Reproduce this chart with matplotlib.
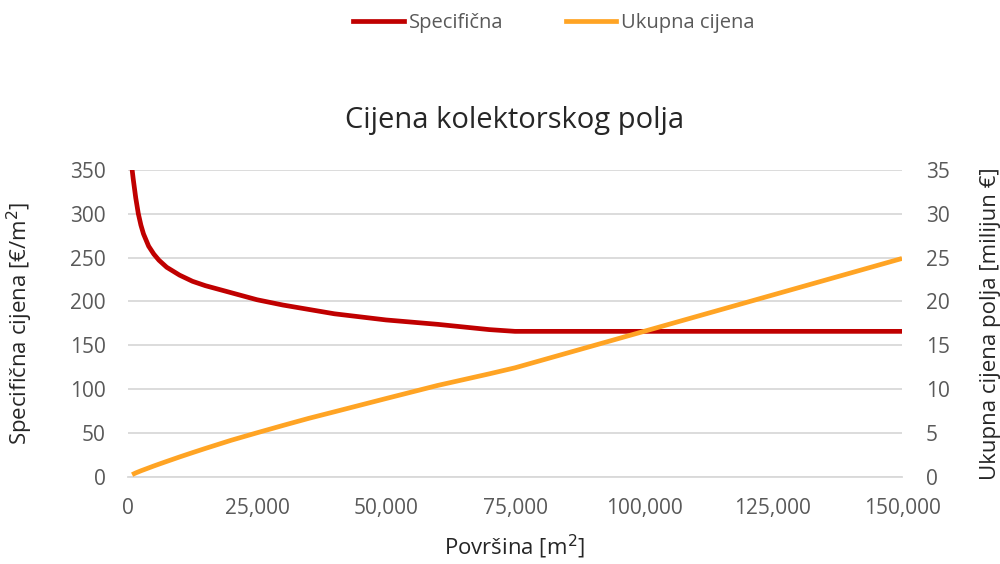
import matplotlib.pyplot as plt
from matplotlib.ticker import FuncFormatter, MultipleLocator
from matplotlib.lines import Line2D

plt.rcParams['font.family'] = ['Open Sans', 'DejaVu Sans']

# area [m2]
povrsina = [800, 1000, 1500, 2000, 2500, 3000, 4000, 5000, 6000, 7500,
            10000, 12500, 15000, 20000, 25000, 30000, 35000, 40000,
            50000, 60000, 70000, 75000, 100000, 125000, 150000]
# specific price [EUR/m2]
specificna = [350, 340, 318, 300, 287, 277, 263, 254, 247, 239,
              230, 223, 218, 210, 202, 196, 191, 186,
              179, 174, 168, 166, 166, 166, 166]
# total price [million EUR]
ukupna = [0.28, 0.34, 0.48, 0.60, 0.72, 0.83, 1.05, 1.27, 1.48, 1.79,
          2.30, 2.79, 3.27, 4.20, 5.05, 5.88, 6.69, 7.44,
          8.95, 10.44, 11.76, 12.45, 16.6, 20.75, 24.9]

RED = '#C00000'
ORANGE = '#FFA424'
GRAY = '#595959'
GRID = '#D9D9D9'

fig = plt.figure(figsize=(10, 5.64), dpi=100)
ax = fig.add_axes([0.128, 0.154, 0.774, 0.545])
ax2 = ax.twinx()

ax.plot(povrsina, specificna, color=RED, lw=3.4, solid_capstyle='butt',
        solid_joinstyle='round', zorder=3)
ax2.plot(povrsina, ukupna, color=ORANGE, lw=3.4, solid_capstyle='butt',
         solid_joinstyle='round', zorder=3)

ax.set_xlim(0, 150000)
ax.set_ylim(0, 350)
ax2.set_ylim(0, 35)
ax.xaxis.set_major_locator(MultipleLocator(25000))
ax.yaxis.set_major_locator(MultipleLocator(50))
ax2.yaxis.set_major_locator(MultipleLocator(5))
ax.xaxis.set_major_formatter(FuncFormatter(lambda v, p: f"{int(v):,}"))

ax.grid(axis='y', color=GRID, lw=1.3)
ax.set_axisbelow(True)
for a in (ax, ax2):
    for s in a.spines.values():
        s.set_visible(False)
    a.tick_params(length=0, labelsize=15, labelcolor=GRAY)
ax.tick_params(axis='y', pad=16)
ax.tick_params(axis='x', pad=15)
ax2.tick_params(axis='y', pad=17)
ax.spines['bottom'].set_visible(True)
ax.spines['bottom'].set_color(GRID)
ax.spines['bottom'].set_linewidth(1.3)

ax.set_xlabel('Površina [m$^2$]', fontsize=16, color='#262626', labelpad=10)
ax.set_ylabel('Specifična cijena [€/m$^2$]', fontsize=16, color='#262626')
ax.yaxis.set_label_coords(-0.120, 0.5)
ax2.set_ylabel('Ukupna cijena polja [milijun €]', fontsize=16, color='#262626',
               rotation=90)
ax2.yaxis.set_label_coords(1.101, 0.5)
ax.set_title('Cijena kolektorskog polja', fontsize=21, color='#262626', pad=30)

handles = [Line2D([], [], color=RED, lw=3.4), Line2D([], [], color=ORANGE, lw=3.4)]
fig.legend(handles, ['Specifična', 'Ukupna cijena'], loc='center', ncol=2,
           bbox_to_anchor=(0.554, 0.96), frameon=False, fontsize=14.5,
           labelcolor=GRAY, handlelength=2.5, columnspacing=3.1, handletextpad=0.25)

fig.savefig('out.png', dpi=100)
